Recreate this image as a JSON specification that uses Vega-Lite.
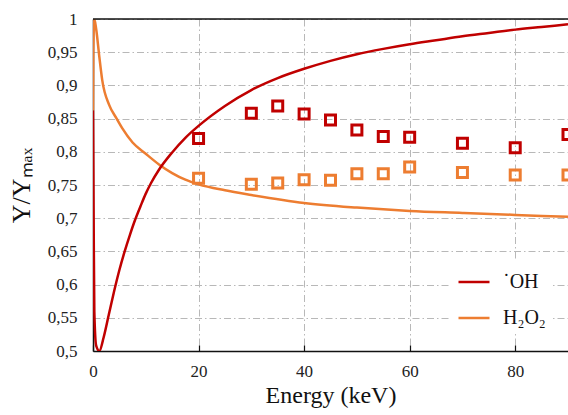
{
  "$schema": "https://vega.github.io/schema/vega-lite/v6.json",
  "width": 475,
  "height": 332,
  "autosize": {"type": "none"},
  "padding": {"left": 93, "top": 19, "right": 0, "bottom": 64},
  "background": "white",
  "config": {
    "view": {"stroke": null},
    "font": "Liberation Serif",
    "axis": {
      "labelFont": "Liberation Serif", "titleFont": "Liberation Serif",
      "labelColor": "#222", "titleColor": "#111", "titleFontWeight": "normal",
      "labelFontSize": 17, "titleFontSize": 24, "labelFlush": false, "labelOverlap": false,
      "domainColor": "#111", "domainWidth": 1.5,
      "grid": true, "gridColor": "#b8b8b8", "gridWidth": 1, "gridDash": [7, 3, 1.5, 3]
    },
    "axisX": {"labelPadding": 18, "titlePadding": 4, "ticks": true, "tickSize": -6, "tickColor": "#111", "tickWidth": 1.2},
    "axisY": {"labelPadding": 16, "titlePadding": 13, "ticks": false, "titleFontSize": 26},
    "legend": {"labelFont": "Liberation Serif"}
  },
  "datasets": {
    "curves": [
      {"E": 0, "Y": 0.862, "series": "H₂O₂"},
      {"E": 0.05, "Y": 0.95, "series": "H₂O₂"},
      {"E": 0.25, "Y": 1.0, "series": "H₂O₂"},
      {"E": 0.6, "Y": 0.985, "series": "H₂O₂"},
      {"E": 1.2, "Y": 0.943, "series": "H₂O₂"},
      {"E": 1.75, "Y": 0.908, "series": "H₂O₂"},
      {"E": 3.1, "Y": 0.87, "series": "H₂O₂"},
      {"E": 4.4, "Y": 0.851, "series": "H₂O₂"},
      {"E": 5.5, "Y": 0.836, "series": "H₂O₂"},
      {"E": 7.5, "Y": 0.814, "series": "H₂O₂"},
      {"E": 10, "Y": 0.797, "series": "H₂O₂"},
      {"E": 12.5, "Y": 0.781, "series": "H₂O₂"},
      {"E": 15, "Y": 0.768, "series": "H₂O₂"},
      {"E": 17.5, "Y": 0.758, "series": "H₂O₂"},
      {"E": 20, "Y": 0.751, "series": "H₂O₂"},
      {"E": 25, "Y": 0.742, "series": "H₂O₂"},
      {"E": 30, "Y": 0.735, "series": "H₂O₂"},
      {"E": 40, "Y": 0.723, "series": "H₂O₂"},
      {"E": 50, "Y": 0.716, "series": "H₂O₂"},
      {"E": 60, "Y": 0.711, "series": "H₂O₂"},
      {"E": 70, "Y": 0.708, "series": "H₂O₂"},
      {"E": 80, "Y": 0.705, "series": "H₂O₂"},
      {"E": 90, "Y": 0.702, "series": "H₂O₂"},
      {"E": 0, "Y": 0.862, "series": "˙OH"},
      {"E": 0.12, "Y": 0.7, "series": "˙OH"},
      {"E": 0.25, "Y": 0.56, "series": "˙OH"},
      {"E": 0.6, "Y": 0.508, "series": "˙OH"},
      {"E": 1.2, "Y": 0.5, "series": "˙OH"},
      {"E": 2, "Y": 0.52, "series": "˙OH"},
      {"E": 3, "Y": 0.555, "series": "˙OH"},
      {"E": 4, "Y": 0.59, "series": "˙OH"},
      {"E": 5, "Y": 0.622, "series": "˙OH"},
      {"E": 6, "Y": 0.65, "series": "˙OH"},
      {"E": 7, "Y": 0.675, "series": "˙OH"},
      {"E": 8, "Y": 0.698, "series": "˙OH"},
      {"E": 9, "Y": 0.718, "series": "˙OH"},
      {"E": 10, "Y": 0.737, "series": "˙OH"},
      {"E": 11, "Y": 0.753, "series": "˙OH"},
      {"E": 12.5, "Y": 0.773, "series": "˙OH"},
      {"E": 15, "Y": 0.799, "series": "˙OH"},
      {"E": 17.5, "Y": 0.821, "series": "˙OH"},
      {"E": 20, "Y": 0.839, "series": "˙OH"},
      {"E": 25, "Y": 0.869, "series": "˙OH"},
      {"E": 30, "Y": 0.893, "series": "˙OH"},
      {"E": 35, "Y": 0.911, "series": "˙OH"},
      {"E": 40, "Y": 0.925, "series": "˙OH"},
      {"E": 45, "Y": 0.937, "series": "˙OH"},
      {"E": 50, "Y": 0.947, "series": "˙OH"},
      {"E": 55, "Y": 0.955, "series": "˙OH"},
      {"E": 60, "Y": 0.962, "series": "˙OH"},
      {"E": 65, "Y": 0.968, "series": "˙OH"},
      {"E": 70, "Y": 0.974, "series": "˙OH"},
      {"E": 75, "Y": 0.979, "series": "˙OH"},
      {"E": 80, "Y": 0.984, "series": "˙OH"},
      {"E": 85, "Y": 0.988, "series": "˙OH"},
      {"E": 90, "Y": 0.992, "series": "˙OH"}
    ],
    "points": [
      {"E": 20, "Y": 0.82, "series": "OH"},
      {"E": 30, "Y": 0.858, "series": "OH"},
      {"E": 35, "Y": 0.869, "series": "OH"},
      {"E": 40, "Y": 0.857, "series": "OH"},
      {"E": 45, "Y": 0.848, "series": "OH"},
      {"E": 50, "Y": 0.833, "series": "OH"},
      {"E": 55, "Y": 0.823, "series": "OH"},
      {"E": 60, "Y": 0.822, "series": "OH"},
      {"E": 70, "Y": 0.813, "series": "OH"},
      {"E": 80, "Y": 0.806, "series": "OH"},
      {"E": 90, "Y": 0.826, "series": "OH"},
      {"E": 20, "Y": 0.76, "series": "H2O2"},
      {"E": 30, "Y": 0.751, "series": "H2O2"},
      {"E": 35, "Y": 0.753, "series": "H2O2"},
      {"E": 40, "Y": 0.758, "series": "H2O2"},
      {"E": 45, "Y": 0.757, "series": "H2O2"},
      {"E": 50, "Y": 0.767, "series": "H2O2"},
      {"E": 55, "Y": 0.767, "series": "H2O2"},
      {"E": 60, "Y": 0.777, "series": "H2O2"},
      {"E": 70, "Y": 0.769, "series": "H2O2"},
      {"E": 80, "Y": 0.765, "series": "H2O2"},
      {"E": 90, "Y": 0.765, "series": "H2O2"}
    ],
    "border": [{"Y": 1}]
  },
  "encoding": {
    "y": {
      "field": "Y", "type": "quantitative",
      "scale": {"domain": [0.5, 1], "nice": false, "zero": false},
      "axis": {
        "title": "Y/Yₘₐₓ",
        "values": [0.5, 0.55, 0.6, 0.65, 0.7, 0.75, 0.8, 0.85, 0.9, 0.95, 1],
        "labelExpr": "replace(format(datum.value, '.2~f'), '.', ',')"
      }
    }
  },
  "layer": [
    {
      "data": {"name": "curves"},
      "mark": {"type": "line", "strokeWidth": 2.5, "interpolate": "monotone", "clip": true},
      "encoding": {
        "x": {
          "field": "E", "type": "quantitative",
          "scale": {"domain": [0, 90], "nice": false, "zero": false},
          "axis": {"title": "Energy (keV)", "values": [0, 20, 40, 60, 80]}
        },
        "color": {
          "field": "series", "type": "nominal",
          "scale": {"domain": ["˙OH", "H₂O₂"], "range": ["#c00000", "#ed7d31"]},
          "legend": {
            "title": null, "orient": "none", "legendX": 358, "legendY": 240,
            "symbolType": "stroke", "symbolSize": 961, "symbolStrokeWidth": 2.5,
            "labelFont": "Liberation Serif", "labelFontSize": 20, "labelColor": "#111",
            "labelOffset": 12, "rowPadding": 9, "padding": 6,
            "fillColor": "white", "strokeColor": null
          }
        }
      }
    },
    {
      "data": {"name": "points"},
      "mark": {"type": "point", "shape": "square", "filled": false, "size": 100, "strokeWidth": 3, "opacity": 1, "clip": false},
      "encoding": {
        "x": {"field": "E", "type": "quantitative", "axis": {"title": "Energy (keV)", "values": [0, 20, 40, 60, 80]}},
        "stroke": {
          "field": "series", "type": "nominal",
          "scale": {"domain": ["OH", "H2O2"], "range": ["#c00000", "#ed7d31"]},
          "legend": null
        }
      }
    },
    {
      "data": {"name": "border"},
      "mark": {"type": "rule", "color": "#111", "strokeWidth": 1.5},
      "encoding": {}
    }
  ]
}
